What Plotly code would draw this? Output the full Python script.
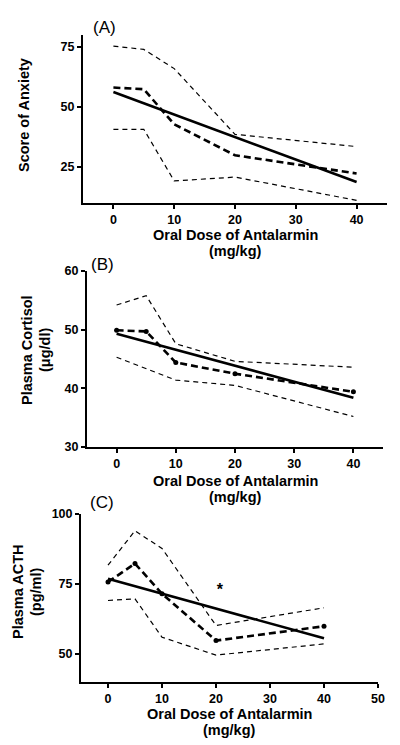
import plotly.graph_objects as go

W, H = 400, 745
dose = [0, 5, 10, 20, 40]

# Panel A: Score of Anxiety
a_mean = [58.1, 57.4, 42.8, 29.9, 22.3]
a_upper = [75.4, 74.0, 66.0, 38.6, 33.5]
a_lower = [40.7, 40.7, 19.2, 20.8, 11.1]
a_fit_x = [0, 40]
a_fit_y = [56.25, 18.75]

# Panel B: Plasma Cortisol
b_mean = [49.9, 49.7, 44.4, 42.5, 39.4]
b_upper = [54.2, 55.8, 47.6, 44.6, 43.6]
b_lower = [45.3, 43.3, 41.4, 40.5, 35.2]
b_fit_x = [0, 40]
b_fit_y = [49.3, 38.4]

# Panel C: Plasma ACTH
c_mean = [75.7, 82.3, 71.5, 54.8, 59.9]
c_upper = [81.7, 94.0, 87.7, 60.2, 66.5]
c_lower = [69.1, 69.7, 56.0, 49.6, 53.6]
c_fit_x = [0, 40]
c_fit_y = [76.9, 55.6]
star_x, star_y = [20.7], [72.4]

# pixel boxes of plot areas: (x0, x1, ytop, ybottom)
boxes = [(83, 387, 35, 203), (87, 383, 271, 447), (81, 378, 514, 682)]
xranges = [[-5, 45], [-5, 45], [-5, 50]]
yranges = [[10, 80], [30, 60], [40, 100]]
yticks = [[25, 50, 75], [30, 40, 50, 60], [50, 75, 100]]
xticks = [[0, 10, 20, 30, 40], [0, 10, 20, 30, 40], [0, 10, 20, 30, 40, 50]]

fig = go.Figure()
panels = [
    (a_mean, a_upper, a_lower, a_fit_x, a_fit_y, False),
    (b_mean, b_upper, b_lower, b_fit_x, b_fit_y, True),
    (c_mean, c_upper, c_lower, c_fit_x, c_fit_y, True),
]
for i, (m, u, l, fx, fy, mk) in enumerate(panels):
    xa = "x" if i == 0 else f"x{i+1}"
    ya = "y" if i == 0 else f"y{i+1}"
    for band in (u, l):
        fig.add_trace(go.Scatter(x=dose, y=band, mode="lines", xaxis=xa, yaxis=ya,
                                 line=dict(color="black", width=1.2, dash="5px,4px"),
                                 showlegend=False, hoverinfo="skip"))
    fig.add_trace(go.Scatter(x=dose, y=m, mode="lines+markers" if mk else "lines",
                             xaxis=xa, yaxis=ya,
                             line=dict(color="black", width=2.6, dash="7px,4px"),
                             marker=dict(color="black", size=5),
                             showlegend=False))
    fig.add_trace(go.Scatter(x=fx, y=fy, mode="lines", xaxis=xa, yaxis=ya,
                             line=dict(color="black", width=2.6),
                             showlegend=False, hoverinfo="skip"))

fig.add_trace(go.Scatter(x=star_x, y=star_y, mode="text", text=["<b>*</b>"],
                         textfont=dict(size=16, color="black", family="Liberation Sans"),
                         xaxis="x3", yaxis="y3", showlegend=False))

axis_common = dict(showline=True, linecolor="black", linewidth=2, ticks="outside",
                   ticklen=4, tickwidth=1.5, tickcolor="black", showgrid=False,
                   zeroline=False, automargin=False,
                   tickfont=dict(family="Liberation Sans", size=12.5, color="black",
                                 weight="bold"))
layout = {}
for i, (x0, x1, yt, yb) in enumerate(boxes):
    xk = "xaxis" if i == 0 else f"xaxis{i+1}"
    yk = "yaxis" if i == 0 else f"yaxis{i+1}"
    xa = "x" if i == 0 else f"x{i+1}"
    ya = "y" if i == 0 else f"y{i+1}"
    layout[xk] = dict(axis_common, domain=[x0 / W, x1 / W], range=xranges[i],
                      tickvals=xticks[i], anchor=ya)
    layout[yk] = dict(axis_common, domain=[1 - yb / H, 1 - yt / H], range=yranges[i],
                      tickvals=yticks[i], anchor=xa)

fig.update_layout(**layout)

ann = []
def px(x, y, text, size, bold=True, angle=0, xanchor="center", yanchor="middle"):
    t = f"<b>{text}</b>" if bold else text
    ann.append(dict(x=x / W, y=1 - y / H, xref="paper", yref="paper", text=t,
                    showarrow=False, textangle=angle, xanchor=xanchor, yanchor=yanchor,
                    font=dict(family="Liberation Sans", size=size, color="black")))

# panel labels
px(91, 28, "(A)", 17, bold=False, xanchor="left")
px(89, 264, "(B)", 17, bold=False, xanchor="left")
px(88, 503, "(C)", 17, bold=False, xanchor="left")
# x titles (two lines each, placed separately for tight spacing)
xt_first = [235, 481, 714]
for (x0, x1, yt, yb), y1 in zip(boxes, xt_first):
    px((x0 + x1) / 2, y1, "Oral Dose of Antalarmin", 14.5)
    px((x0 + x1) / 2, y1 + 16, "(mg/kg)", 14.5)
# y titles
px(24, 115, "Score of Anxiety", 14.5, angle=-90)
px(27, 350, "Plasma Cortisol", 14.5, angle=-90)
px(45, 350, "(μg/dl)", 14.5, angle=-90)
px(18, 592, "Plasma ACTH", 14.5, angle=-90)
px(36, 592, "(pg/ml)", 14.5, angle=-90)

fig.update_layout(annotations=ann, width=W, height=H,
                  margin=dict(l=0, r=0, t=0, b=0, pad=0), template="none",
                  paper_bgcolor="white", plot_bgcolor="white", hovermode=False)

fig.write_html("out.html", config={"displayModeBar": False},
               post_script="document.body.style.margin='0';"
                           "document.body.style.padding='0';"
                           "document.documentElement.style.overflow='hidden';")
